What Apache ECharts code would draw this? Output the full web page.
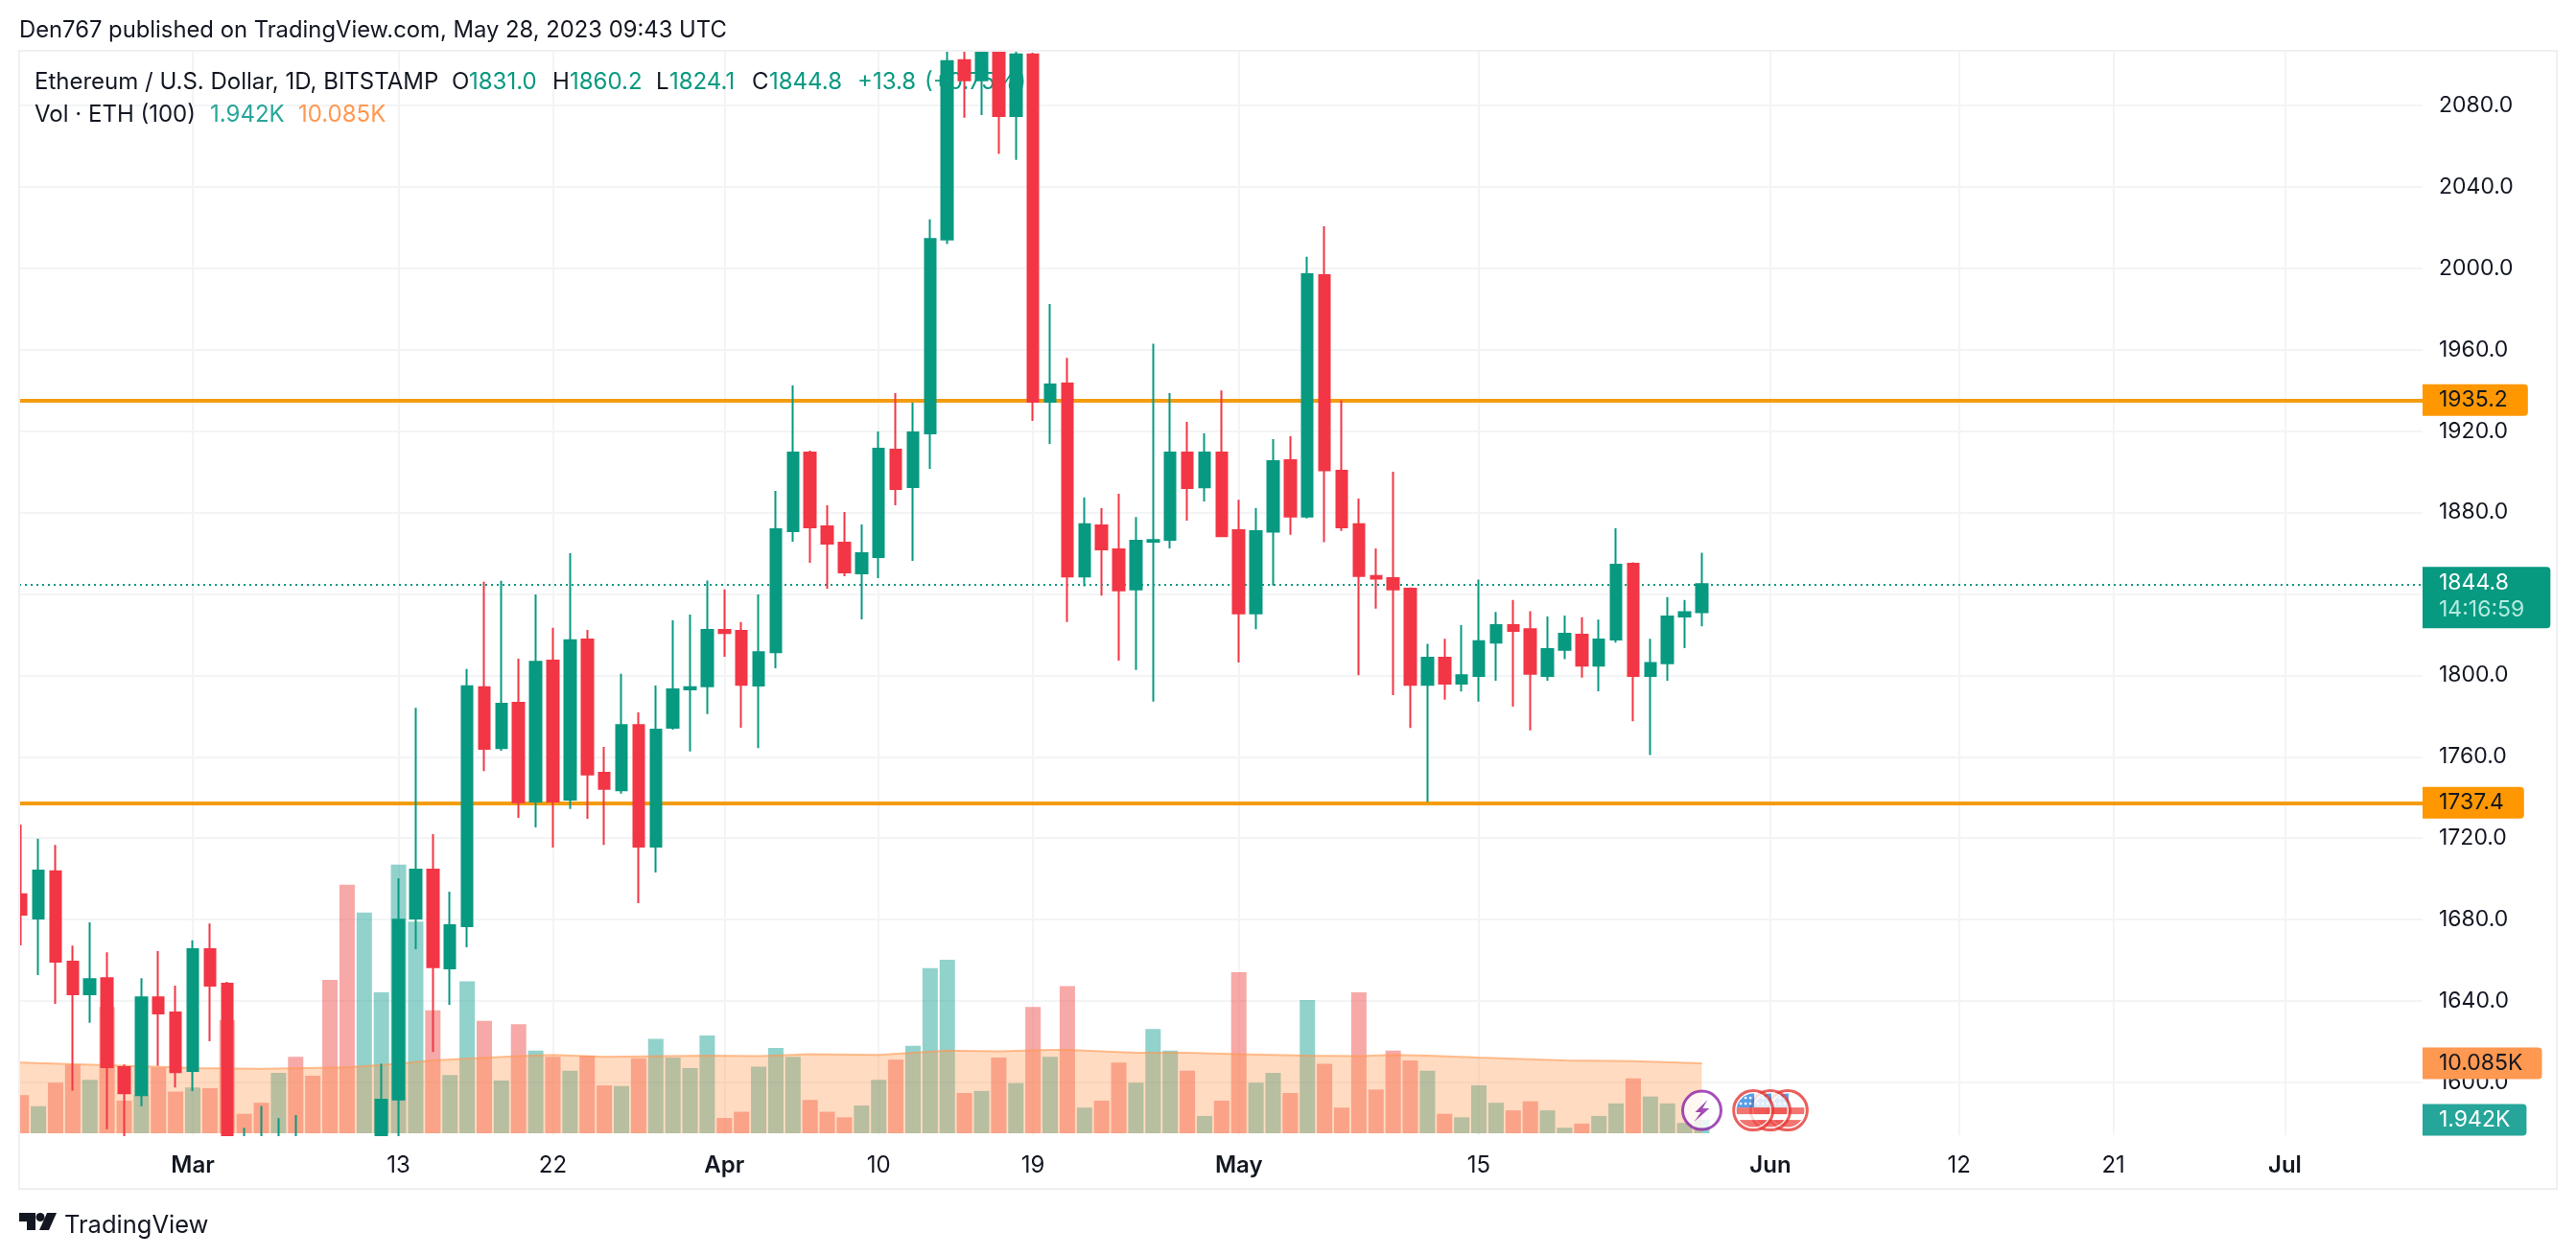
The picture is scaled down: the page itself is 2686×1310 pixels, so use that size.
<!DOCTYPE html>
<html lang="en">

<head>
  <meta charset="UTF-8">
  <title>ETHUSD 1D</title>
  <style>
    html, body {
      margin: 0;
      background: #fff;
    }
    #main {
      width: 2686px;
      height: 1310px;
    }
  </style>
</head>

<body>
  <div id="main"></div>
  <script src="https://cdn.jsdelivr.net/npm/echarts@6/dist/echarts.min.js"></script>
  <script>
    // x is a day number, day 0 = Feb 19 2023, last candle = May 28 2023
    var opens = [
      1692.4, 1680.5, 1703.7, 1659.3, 1643.3, 1651.2, 1607.5, 1593.8, 1641.8, 1634.4,
      1605.6, 1665.5, 1648.5, 1569, 1566, 1562, 1566, 1561, 1534, 1435,
      1430, 1480, 1591.7, 1680.5, 1704.6, 1656.1, 1676.8, 1794.2, 1764.3, 1786.5,
      1738, 1807.2, 1738.9, 1817.6, 1752.1, 1743.6, 1775.6, 1715.9, 1774.3, 1793.1,
      1794.6, 1822.3, 1821.9, 1795, 1811.4, 1870.8, 1909.5, 1873.2, 1865.2, 1850.1,
      1858.1, 1910.9, 1892.5, 1918.9, 2014.1, 2102.2, 2092.3, 2118, 2074.8, 2105,
      1934.4, 1943.4, 1848.6, 1873.7, 1861.9, 1842.2, 1865.7, 1866.6, 1909.5, 1892.4,
      1909.5, 1871.3, 1830.4, 1870.6, 1905.7, 1878, 1996.6, 1900.5, 1874.2, 1848.8,
      1847.7, 1842.6, 1795.4, 1808.7, 1795.9, 1799.7, 1816.1, 1824.7, 1822.7, 1799.7,
      1812.5, 1820, 1804.8, 1817.6, 1854.8, 1799.7, 1805.9, 1828.9, 1831
    ];
    var closes = [
      1682.4, 1704.1, 1659.3, 1643.3, 1650.8, 1607.5, 1594.7, 1641.8, 1633.9, 1605.1,
      1665.5, 1647.6, 1569, 1566, 1562, 1566, 1561, 1534, 1435, 1430,
      1480, 1591.5, 1680, 1704.6, 1656.6, 1677.2, 1794.6, 1763.9, 1786, 1737.6,
      1806.7, 1738, 1817.2, 1751.3, 1744.2, 1775.6, 1715.9, 1773.3, 1793.1, 1794.2,
      1822.3, 1820.8, 1795.4, 1811.4, 1871.8, 1909.5, 1872.7, 1864.7, 1850.6, 1860,
      1911.3, 1891.6, 1919.4, 2014.4, 2101.7, 2092.3, 2118, 2074.8, 2105, 1934.4,
      1942.9, 1848.6, 1874.2, 1861.9, 1841.7, 1866.1, 1866.5, 1909.5, 1892, 1909.5,
      1868.4, 1830.4, 1870.8, 1905.2, 1878, 1997.1, 1900.7, 1872.7, 1848.8, 1847.5,
      1842.2, 1795.4, 1808.7, 1795.9, 1800.1, 1816.8, 1824.7, 1821.9, 1800.8, 1812.9,
      1820.4, 1804.8, 1817.6, 1854.4, 1799.7, 1806.1, 1828.9, 1831, 1844.8
    ];
    var lows = [
      1667.4, 1652.7, 1638.6, 1596, 1629.3, 1577, 1560, 1588.3, 1608.1, 1597.5,
      1595.8, 1620.3, 1545, 1552, 1555, 1550, 1550, 1530, 1420, 1370,
      1410, 1470, 1560, 1665.5, 1615, 1638.2, 1666.4, 1753, 1763, 1730,
      1725.3, 1715.4, 1734.4, 1729.5, 1716.7, 1741.9, 1688.1, 1703.1, 1773.3, 1762.6,
      1781, 1809.1, 1774.3, 1764.3, 1803.5, 1865.7, 1855.3, 1842.6, 1848.7, 1827.5,
      1847.8, 1883.6, 1856.2, 1901.5, 2011.9, 2074, 2075.3, 2056.2, 2053.2, 1925,
      1913.7, 1826.2, 1843.7, 1839.2, 1807.2, 1802.7, 1787.1, 1862.3, 1876, 1885.4,
      1868.1, 1806.3, 1822.7, 1844.1, 1869.1, 1877.1, 1865.4, 1871, 1800.1, 1832.8,
      1790.3, 1774.1, 1737.8, 1788, 1792, 1787.1, 1797.4, 1784.6, 1773, 1797.4,
      1808, 1798.9, 1792.2, 1816.1, 1777.5, 1760.9, 1797.4, 1813.4, 1824.1
    ];
    var highs = [
      1726.7, 1719.7, 1716.7, 1667.2, 1678.7, 1664, 1608.8, 1651.2, 1664.5, 1647.6,
      1669.8, 1678.1, 1649.5, 1577.8, 1588.5, 1582.5, 1584, 1570, 1544, 1445,
      1490, 1609.2, 1700.3, 1784.1, 1722, 1693.7, 1803.1, 1846, 1846.4, 1808.2,
      1839.8, 1823.4, 1860, 1822.3, 1764.9, 1800.8, 1781.8, 1795, 1827, 1829.8,
      1846.6, 1842.2, 1826.2, 1839.8, 1890.6, 1942.4, 1910.4, 1883.6, 1880.3, 1874.1,
      1919.8, 1938.7, 1934, 2024, 2112, 2110, 2125, 2125, 2108, 2105.8,
      1982.5, 1956, 1887.4, 1882.1, 1889.2, 1877.8, 1962.9, 1938.7, 1924.5, 1918.9,
      1940, 1886.3, 1882.1, 1916, 1917.5, 2005.6, 2020.6, 1935.1, 1886.8, 1862.3,
      1900, 1843.2, 1815.5, 1818, 1824.7, 1847.1, 1831.1, 1837, 1831.5, 1828.9,
      1829.4, 1828.5, 1827.4, 1872.2, 1855.5, 1818, 1838.5, 1837, 1860.2
    ];
    // volume in thousands of ETH, bars are coloured by candle direction
    var volumes = [
      5.5, 3.9, 7.3, 9.9, 7.7, 18.2, 4.7, 5.5, 9.5, 6,
      6.6, 6.5, 16.3, 2.8, 4.4, 8.7, 11, 8.3, 22.1, 35.8,
      31.8, 20.3, 38.7, 30.5, 17.7, 8.4, 21.9, 16.2, 7.6, 15.7,
      11.9, 11, 9, 11.2, 6.9, 6.8, 10.8, 13.6, 10.9, 9.4,
      14.1, 2.2, 3.1, 9.6, 12.3, 11, 4.8, 3.1, 2.3, 4,
      7.7, 10.6, 12.6, 23.8, 25, 5.8, 6.1, 10.9, 7.2, 18.2,
      11, 21.2, 3.7, 4.7, 10.2, 7.3, 15, 11.9, 9, 2.5,
      4.7, 23.2, 7.3, 8.7, 5.8, 19.2, 10, 3.7, 20.3, 6.3,
      11.9, 10.5, 9, 2.8, 2.3, 6.9, 4.4, 3.3, 4.6, 3.3,
      0.8, 1.4, 2.5, 4.3, 7.9, 5.3, 4.3, 1.5, 1.942
    ];
    // volume moving average, read at a handful of days
    var maDays = [-1, 0, 9, 10, 14, 19, 22, 24, 29, 31, 34, 40, 43, 46, 50, 54, 57, 60, 61, 65, 68, 71, 75, 78, 80, 82, 85, 90, 94, 98];
    var maValues = [10.2, 10.2, 9.5, 9.4, 9.3, 9.5, 10, 10.5, 11.1, 11.3, 11, 11.2, 11.1, 11.4, 11.3, 11.9, 11.8, 12, 12, 11.6, 11.6, 11.4, 11.2, 11.1, 11.3, 11.2, 10.9, 10.5, 10.4, 10.085];

    var priceTicks = [1600, 1640, 1680, 1720, 1760, 1800, 1840, 1880, 1920, 1960, 2000, 2040, 2080];
    var timeTickDays = [10, 22, 31, 41, 50, 59, 71, 85, 102, 113, 122, 132];
    var timeTickTexts = ['Mar', '13', '22', 'Apr', '10', '19', 'May', '15', 'Jun', '12', '21', 'Jul'];
    var boldTicks = ['Mar', 'Apr', 'May', 'Jun', 'Jul'];

    var priceMin = 1574.1;
    var priceMax = 2106.8;
    var upperLevel = 1935.2;
    var lowerLevel = 1737.4;
    var lastPrice = 1844.8;
    var countdown = '14:16:59';
    var lastVolume = 1.942;
    var lastVolumeMa = 10.085;

    var flagDays = [103, 102, 101]; // economic events, nearest one on top
    var boltDays = [98];
    var iconLevel = 3.3;

    var UP = '#089981';
    var DOWN = '#f23645';
    var INK = '#131722';
    var FONT = 'Inter';

    // candlestick series has no clip path: cut values just past the pane edges,
    // what pokes out at the bottom goes under the white strip below
    function inPane(v) {
      return Math.min(priceMax, Math.max(priceMin - 3, v));
    }

    var candleData = [];
    opens.forEach(function (o, i) {
      if (highs[i] < priceMin) return;
      candleData.push([i, inPane(o), inPane(closes[i]), inPane(lows[i]), inPane(highs[i])]);
    });
    var volumeData = volumes.map(function (v, i) {
      return {
        value: [i, v],
        itemStyle: {
          color: closes[i] >= opens[i] ? 'rgba(38,166,154,.5)' : 'rgba(239,83,80,.5)'
        }
      };
    });
    var maData = maDays.map(function (d, i) {
      return [d, maValues[i]];
    });

    var flagSvg = '<svg xmlns="http://www.w3.org/2000/svg" width="44" height="44">' +
      '<defs><clipPath id="c"><circle cx="22" cy="22" r="17.5"/></clipPath></defs>' +
      '<circle cx="22" cy="22" r="20.5" fill="#fff" stroke="#e53935" stroke-width="3"/>' +
      '<g clip-path="url(#c)"><rect y="19" width="44" height="7" fill="#ef5350"/>' +
      '<rect y="32" width="44" height="12" fill="#ef5350"/><rect width="23" height="19" fill="#2f86e0"/>' +
      '<g fill="#fff"><circle cx="9" cy="9" r="1.4"/><circle cx="14" cy="9" r="1.4"/><circle cx="19" cy="9" r="1.4"/>' +
      '<circle cx="9" cy="15" r="1.4"/><circle cx="14" cy="15" r="1.4"/><circle cx="19" cy="15" r="1.4"/></g></g></svg>';
    var boltSvg = '<svg xmlns="http://www.w3.org/2000/svg" width="44" height="44">' +
      '<circle cx="22" cy="22" r="20" fill="#fff" stroke="#8e24aa" stroke-width="3"/>' +
      '<path d="M28 11 L15 24 L21 24 L14 34 L30 20 L23 20 Z" fill="#8e24aa"/></svg>';

    function svgSymbol(svg) {
      return 'image://data:image/svg+xml;charset=utf-8,' + encodeURIComponent(svg);
    }

    function tagLabel(text, bg, color, padRight) {
      return {
        show: true,
        position: 'end',
        distance: 0,
        formatter: text,
        backgroundColor: bg,
        color: color,
        fontFamily: FONT,
        fontSize: 23,
        lineHeight: 24,
        padding: [5, padRight, 4, 17],
        borderRadius: [0, 4, 4, 0]
      };
    }

    // header, legend and footer text
    var texts = [
      [20, 32, 'Den767 published on TradingView.com, May 28, 2023 09:43 UTC', INK, 23.8],
      [36, 86, 'Ethereum / U.S. Dollar, 1D, BITSTAMP', INK, 24],
      [471, 86, 'O', INK, 24],
      [489, 86, '1831.0', UP, 24],
      [576, 86, 'H', INK, 24],
      [594, 86, '1860.2', UP, 24],
      [684, 86, 'L', INK, 24],
      [698, 86, '1824.1', UP, 24],
      [784, 86, 'C', INK, 24],
      [802, 86, '1844.8', UP, 24],
      [894, 86, '+13.8', UP, 24],
      [964, 86, '(+0.75%)', UP, 24],
      [36, 120, 'Vol · ETH (100)', INK, 24],
      [219, 120, '1.942K', '#26a69a', 24],
      [311, 120, '10.085K', '#ff9850', 24],
      [67, 1278, 'TradingView', INK, 25.5]
    ];

    var graphics = texts.map(function (t) {
      return {
        type: 'text',
        x: t[0],
        y: t[1],
        z: 1,
        silent: true,
        style: {
          text: t[2],
          fill: t[3],
          font: t[4] + 'px ' + FONT,
          verticalAlign: 'middle'
        }
      };
    });
    // first candle and bar are cut by the pane's left edge
    graphics.push({
      type: 'rect',
      z: 100,
      silent: true,
      shape: { x: 0, y: 45, width: 20, height: 1150 },
      style: { fill: '#fff' }
    });
    // candles below the price range end at the pane's bottom edge
    graphics.push({
      type: 'rect',
      z: 100,
      silent: true,
      shape: { x: 20, y: 1185, width: 2506, height: 12 },
      style: { fill: '#fff' }
    });
    // chart frame
    graphics.push({
      type: 'rect',
      z: 101,
      silent: true,
      shape: { x: 20, y: 53, width: 2646, height: 1187 },
      style: { fill: 'none', stroke: '#eff0f3', lineWidth: 2 }
    });
    // TradingView logo
    graphics.push({
      type: 'polygon',
      silent: true,
      shape: { points: [[20, 1265], [37, 1265], [37, 1283], [28, 1283], [28, 1274], [20, 1274]] },
      style: { fill: INK }
    });
    graphics.push({
      type: 'polygon',
      silent: true,
      shape: { points: [[49, 1265], [59, 1265], [51, 1283], [41, 1283]] },
      style: { fill: INK }
    });
    graphics.push({
      type: 'circle',
      silent: true,
      shape: { cx: 42, cy: 1269.5, r: 4.5 },
      style: { fill: INK }
    });

    var gridLine = { show: true, lineStyle: { color: '#f3f4f6', width: 2 } };

    var option = {
      animation: false,
      backgroundColor: '#fff',
      graphic: graphics,
      grid: { left: 20, right: 160, top: 53, height: 1131 },
      xAxis: {
        type: 'value',
        min: -0.123,
        max: 140.03,
        axisLine: { show: false },
        axisTick: { show: false, customValues: timeTickDays },
        splitLine: gridLine,
        axisLabel: {
          customValues: timeTickDays,
          margin: 20,
          hideOverlap: false,
          color: INK,
          fontFamily: FONT,
          fontSize: 24,
          formatter: function (value) {
            var text = timeTickTexts[timeTickDays.indexOf(value)];
            return boldTicks.indexOf(text) >= 0 ? '{b|' + text + '}' : text;
          },
          rich: {
            b: { fontFamily: FONT, fontSize: 24, fontWeight: 600, color: INK }
          }
        }
      },
      yAxis: [{
        type: 'value',
        position: 'right',
        min: priceMin,
        max: priceMax,
        axisLine: { show: false },
        axisTick: { show: false, customValues: priceTicks },
        splitLine: gridLine,
        axisLabel: {
          customValues: priceTicks,
          margin: 17,
          padding: [6, 0, 0, 0],
          color: INK,
          fontFamily: FONT,
          fontSize: 23,
          formatter: function (v) {
            return v.toFixed(1);
          }
        }
      }, {
        // volume scale, hidden: zero sits just above the pane's bottom edge
        type: 'value',
        show: false,
        min: -0.276,
        max: 155.9,
        splitLine: { show: false }
      }],
      series: [{
        name: 'Vol',
        type: 'bar',
        yAxisIndex: 1,
        barWidth: 16,
        z: 2,
        data: volumeData,
        markLine: {
          silent: true,
          symbol: 'none',
          z: 4,
          animation: false,
          lineStyle: { color: 'transparent', width: 0 },
          data: [{
            yAxis: lastVolumeMa,
            label: tagLabel('10.085K', '#ff9850', INK, 20)
          }, {
            yAxis: lastVolume,
            label: tagLabel('1.942K', '#26a69a', '#fff', 17)
          }]
        }
      }, {
        name: 'Vol MA',
        type: 'line',
        yAxisIndex: 1,
        z: 3,
        symbol: 'none',
        lineStyle: { color: 'rgba(255,152,80,.6)', width: 2 },
        areaStyle: { color: 'rgba(255,152,80,.5)' },
        data: maData
      }, {
        name: 'ETHUSD',
        type: 'candlestick',
        yAxisIndex: 0,
        z: 10,
        barWidth: 12,
        encode: { x: 0, y: [1, 2, 3, 4] },
        itemStyle: {
          color: UP,
          color0: DOWN,
          borderColor: UP,
          borderColor0: DOWN,
          borderWidth: 2
        },
        data: candleData,
        markLine: {
          silent: true,
          symbol: 'none',
          z: 4,
          animation: false,
          data: [{
            yAxis: upperLevel,
            lineStyle: { color: '#f39c12', width: 4, type: 'solid' },
            label: tagLabel('1935.2', '#ff9800', INK, 21)
          }, {
            yAxis: lowerLevel,
            lineStyle: { color: '#f39c12', width: 4, type: 'solid' },
            label: tagLabel('1737.4', '#ff9800', INK, 21)
          }, {
            yAxis: lastPrice,
            lineStyle: { color: UP, width: 2, type: [2, 4] },
            label: {
              show: true,
              position: 'end',
              distance: 0,
              offset: [0, 14],
              formatter: '{p|1844.8}\n{t|' + countdown + '}',
              backgroundColor: UP,
              padding: [3, 27, 5, 17],
              borderRadius: [0, 4, 4, 0],
              rich: {
                p: { color: '#fff', fontFamily: FONT, fontSize: 23, lineHeight: 28 },
                t: { color: '#b2ebdf', fontFamily: FONT, fontSize: 23, lineHeight: 28 }
              }
            }
          }]
        }
      }, {
        name: 'Flags',
        type: 'scatter',
        yAxisIndex: 1,
        z: 11,
        silent: true,
        symbol: svgSymbol(flagSvg),
        symbolSize: 44,
        data: flagDays.map(function (d) {
          return [d, iconLevel];
        })
      }, {
        name: 'Ideas',
        type: 'scatter',
        yAxisIndex: 1,
        z: 11,
        silent: true,
        symbol: svgSymbol(boltSvg),
        symbolSize: 44,
        data: boltDays.map(function (d) {
          return [d, iconLevel];
        })
      }]
    };

    var chart = echarts.init(document.getElementById('main'));
    chart.setOption(option);
  </script>
</body>

</html>
